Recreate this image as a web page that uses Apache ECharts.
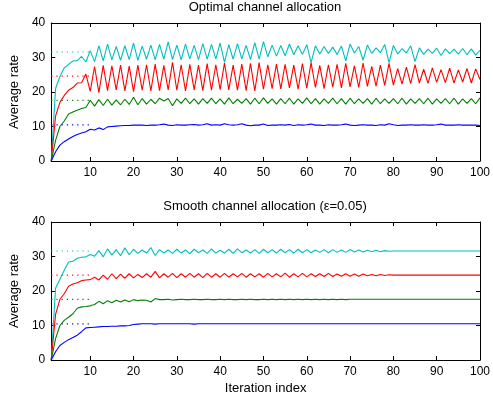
<!DOCTYPE html>
<html>
<head>
<meta charset="utf-8">
<script src="https://cdn.jsdelivr.net/npm/echarts@6/dist/echarts.min.js"></script>
<style>
  html, body { margin: 0; padding: 0; background: #fff; }
  #chart { width: 493px; height: 400px; }
</style>
</head>
<body>
<div id="chart"></div>
<script>
// iterations 1..100
const iterations = [
  1,2,3,4,5,6,7,8,9,10,11,12,13,14,15,16,17,18,19,20,
  21,22,23,24,25,26,27,28,29,30,31,32,33,34,35,36,37,38,39,40,
  41,42,43,44,45,46,47,48,49,50,51,52,53,54,55,56,57,58,59,60,
  61,62,63,64,65,66,67,68,69,70,71,72,73,74,75,76,77,78,79,80,
  81,82,83,84,85,86,87,88,89,90,91,92,93,94,95,96,97,98,99,100
];
const yTicks = [0, 10, 20, 30, 40];
const titles = ['Optimal channel allocation', 'Smooth channel allocation (\u03b5=0.05)'];

// target rates (dotted), drawn up to iteration 10
const refLevels = [31.6, 24.6, 17.6, 10.5];
const refEnd = 10;

// --- optimal allocation ---
const optCyan = [
  0,21,24.5,27,28,29,29.1,30.3,28.7,32,
  28.8,33.4,29,33.9,29.3,33.2,29.2,33.4,29.4,34.2,
  29.2,33.3,29.5,33.6,29.3,33.8,29.5,34.5,29.4,33.6,
  29.3,33.9,29.6,33.5,29.4,34,29.5,33.8,29.6,34.2,
  28.6,33.7,29.5,34,29.6,33.5,29.4,34.3,29.5,34.6,
  30.2,33.6,30.4,33.5,30.5,33.9,30.8,33.4,30.9,33.7,
  28.5,33.4,31,33.2,31.2,33,30.9,33.3,29,33.9,
  31.3,33.2,29.2,33.6,31.2,32.8,31.4,33.8,28.5,33.5,
  31,32.6,31.3,33.4,28.8,32.8,30.9,32.4,31.2,32.7,
  30.6,32.5,31.1,32.4,31,32.6,30.8,32.5,30.7,32.1
];
const optRed = [
  0,13,17,19,20.5,21.3,22.6,22.7,25.2,20.2,
  27.4,19.8,27.7,20.4,27.6,20.6,27.8,20.3,27.5,20.1,
  27.8,20.5,27.9,20.3,28.1,20.4,27.7,20.6,28.6,20.5,
  27.9,20.3,28,20.6,27.8,20.4,28.2,20.5,27.9,20.7,
  28.4,20.6,27.8,20.5,28.1,20.4,28.3,20.3,28.5,20.8,
  27.9,21,28.1,20.9,28,21.2,27.8,20.8,28.2,21.1,
  28.5,21.3,27.7,21,27.9,21.4,28,21.2,28.3,21.5,
  27.6,21.3,28.4,21.6,27.4,21.7,27.8,21.9,28.3,22,
  26.8,22.3,27.2,22.4,27.9,22.6,26.6,22.5,27,22.8,
  26.5,22.7,26.9,22.6,26.4,22.9,26.8,22.6,26.7,23.6
];
const optGreen = [
  0,6,10,11.6,13.6,14.2,14.7,15.2,15.5,17.6,
  15.9,17.8,16.1,17.9,16.2,17.7,16.3,17.9,16.4,18.5,
  16.3,18.1,16.5,17.9,16.6,18.2,17.4,18.1,16,18,
  16.7,18.2,16.6,18,16.5,18.1,16.7,18.2,16.6,18,
  16.5,18.3,16.6,17.9,16.7,18.1,16.5,18.2,16.6,18.3,
  16.7,18,16.5,18.1,16.6,18.2,16.5,18,16.7,18.3,
  16.6,18.1,16.5,18,16.7,18.2,16.6,18.1,16.5,18.2,
  16.6,18,16.7,18.1,16.5,18.2,16.6,18,16.7,18.1,
  16.6,18.2,16.5,18,16.7,18.1,16.6,18.2,16.5,18,
  16.7,18.1,16.6,18.2,16.5,18,16.7,18.1,16.6,18.3
];
const optBlue = [
  0,2.7,4.6,5.6,6.4,7.1,7.7,8.1,8.5,9.2,
  9,9.6,9.1,9.9,10,10.1,10.2,10.3,10.3,10.4,
  10.4,10.4,10.3,10.4,10.4,10.5,10.7,10.4,10.3,10.5,
  10.4,10.4,10.5,10.6,10.4,10.5,10.8,10.4,10.5,10.4,
  10.8,10.5,10.4,10.5,10.8,10.4,10.2,10.4,10.4,10.7,
  10.3,10.4,10.4,10.5,10.4,10.6,10.3,10.5,10.4,10.5,
  10.7,10.4,10.4,10.3,10.5,10.4,10.4,10.5,10.7,10.4,
  10.3,10.4,10.5,10.4,10.4,10.3,10.5,10.4,10.8,10.5,
  10.3,10.4,10.4,10.5,10.4,10.4,10.5,10.4,10.4,10.5,
  10.7,10.4,10.4,10.4,10.5,10.4,10.4,10.4,10.4,10.3
];

// --- smooth allocation ---
const smCyan = [
  0,20.8,23.4,26,28.4,28.6,29.5,29.8,29.9,30.6,
  30.1,31.7,29.9,32.2,30.4,32,30.2,32.5,30.5,32.1,
  30.9,31.9,31,32.6,30.3,32,31,31.9,30.9,32.1,
  31,31.9,30.8,32.1,31.1,31.9,30.9,32.2,31,31.8,
  31,32.1,30.9,32.2,31.1,31.9,31,32,30.9,32.1,
  31.1,32,31,32.1,31.1,32,31,32.1,31.1,32,
  31.1,31.9,31.2,32,31.1,32,31.2,31.9,31.2,32,
  31.3,31.9,31.3,31.8,31.4,31.8,31.4,31.7,31.5,31.6,
  31.6,31.6,31.6,31.6,31.6,31.6,31.6,31.6,31.6,31.6,
  31.6,31.6,31.6,31.6,31.6,31.6,31.6,31.6,31.6,31.6
];
const smRed = [
  0,13.2,17.6,19.2,21.4,22,22.4,23,23.2,23.3,
  24,23.2,24.6,23.4,25,23.6,24.9,23.7,25,23.8,
  24.8,23.9,25,24,25.7,23.8,25,24,25.1,23.9,
  25,24,25.1,24,25,23.9,25.1,24,25,24,
  25.1,24,25,24.1,25.1,24,25,24.1,25,24,
  25.1,24.1,25,24.1,25.2,24,25,24.1,25.1,24.1,
  25,24.2,25,24.2,25.1,24.2,24.9,24.3,25,24.3,
  24.9,24.3,24.9,24.4,24.8,24.4,24.8,24.5,24.7,24.6,
  24.6,24.6,24.6,24.6,24.6,24.6,24.6,24.6,24.6,24.6,
  24.6,24.6,24.6,24.6,24.6,24.6,24.6,24.6,24.6,24.6
];
const smGreen = [
  0,6.2,10,11.5,12.4,13.4,15,15.4,15.5,15.7,
  16.1,17,16.3,17.2,16.6,17.3,16.8,17.4,16.9,17.5,
  17.2,17.4,17.3,16.8,17.8,17.5,17.5,17.6,17.4,17.5,
  17.6,17.5,17.5,17.6,17.5,17.5,17.6,17.5,17.5,17.6,
  17.5,17.6,17.5,17.5,17.6,17.5,17.6,17.5,17.5,17.6,
  17.5,17.6,17.5,17.6,17.5,17.6,17.5,17.6,17.5,17.6,
  17.5,17.6,17.5,17.6,17.5,17.6,17.5,17.6,17.5,17.6,
  17.6,17.6,17.6,17.6,17.6,17.6,17.6,17.6,17.6,17.6,
  17.6,17.6,17.6,17.6,17.6,17.6,17.6,17.6,17.6,17.6,
  17.6,17.6,17.6,17.6,17.6,17.6,17.6,17.6,17.6,17.6
];
const smBlue = [
  0,2.4,4.2,5.1,5.9,6.5,7.2,8.2,9.3,9.4,
  9.5,9.6,9.7,9.7,9.8,9.8,9.9,9.9,10,10.3,
  10.4,10.5,10.5,10.5,10.4,10.5,10.5,10.5,10.5,10.5,
  10.5,10.5,10.5,10.4,10.5,10.5,10.5,10.5,10.5,10.5,
  10.5,10.5,10.5,10.5,10.5,10.5,10.5,10.5,10.5,10.5,
  10.5,10.5,10.5,10.5,10.5,10.5,10.5,10.5,10.5,10.5,
  10.5,10.5,10.5,10.5,10.5,10.5,10.5,10.5,10.5,10.5,
  10.5,10.5,10.5,10.5,10.5,10.5,10.5,10.5,10.5,10.5,
  10.5,10.5,10.5,10.5,10.5,10.5,10.5,10.5,10.5,10.5,
  10.5,10.5,10.5,10.5,10.5,10.5,10.5,10.5,10.5,10.5
];

const colors = ['#00bfbf', '#ff0000', '#008000', '#0000ff'];
const font = '"Liberation Sans", Arial, Helvetica, sans-serif';
const panels = [
  [optCyan, optRed, optGreen, optBlue],
  [smCyan, smRed, smGreen, smBlue]
];
const gridTops = [23, 222];

const showEvery10 = (idx) => (idx + 1) % 10 === 0;

const chart = echarts.init(document.getElementById('chart'), null, { renderer: 'canvas' });

const grid = [], xAxis = [], yAxis = [], title = [], series = [];

panels.forEach((lines, p) => {
  grid.push({ left: 47, right: 11, top: gridTops[p], height: 138 });
  title.push({
    text: titles[p], left: 265, top: gridTops[p] - 22, textAlign: 'center', padding: 0,
    textStyle: { fontFamily: font, fontSize: 13, fontWeight: 'normal', color: '#000' }
  });

  const axisLine = { show: true, onZero: false, lineStyle: { color: '#000', width: 1 } };
  const tick = { show: true, inside: true, length: 4, lineStyle: { color: '#000' } };

  // bottom x
  xAxis.push({
    gridIndex: p, type: 'category', position: 'bottom', data: iterations, boundaryGap: false,
    axisLine: axisLine,
    axisTick: Object.assign({ interval: showEvery10 }, tick),
    axisLabel: { interval: showEvery10, margin: 6, fontFamily: font, fontSize: 12, color: '#000' },
    splitLine: { show: false },
    name: p === 1 ? 'Iteration index' : '',
    nameLocation: 'middle', nameGap: 22,
    nameTextStyle: { fontFamily: font, fontSize: 13, color: '#000' }
  });
  // top x (box)
  xAxis.push({
    gridIndex: p, type: 'category', position: 'top', data: iterations, boundaryGap: false,
    axisLine: axisLine,
    axisTick: Object.assign({ interval: showEvery10 }, tick),
    axisLabel: { show: false }, splitLine: { show: false }
  });
  // left y
  yAxis.push({
    gridIndex: p, type: 'value', position: 'left',
    min: yTicks[0], max: yTicks[yTicks.length - 1], interval: 10,
    axisLine: axisLine, axisTick: tick,
    axisLabel: { margin: 6, fontFamily: font, fontSize: 12, color: '#000' },
    splitLine: { show: false },
    name: 'Average rate', nameLocation: 'middle', nameGap: 26,
    nameTextStyle: { fontFamily: font, fontSize: 13, color: '#000' }
  });
  // right y (box)
  yAxis.push({
    gridIndex: p, type: 'value', position: 'right',
    min: yTicks[0], max: yTicks[yTicks.length - 1], interval: 10,
    axisLine: axisLine, axisTick: tick,
    axisLabel: { show: false }, splitLine: { show: false }
  });

  // dotted target levels
  refLevels.forEach((lv, k) => {
    series.push({
      type: 'line', xAxisIndex: p * 2, yAxisIndex: p * 2,
      data: [[0, lv], [refEnd - 1, lv]],
      symbol: 'none', silent: true, z: 1,
      lineStyle: { color: colors[k], width: 1.2, type: [1.2, 4] }
    });
  });

  lines.forEach((vals, k) => {
    series.push({
      type: 'line', xAxisIndex: p * 2, yAxisIndex: p * 2,
      data: vals, symbol: 'none', z: 2,
      lineStyle: { color: colors[k], width: 1.1 }
    });
  });
});

chart.setOption({
  animation: false,
  backgroundColor: '#fff',
  title: title,
  grid: grid,
  xAxis: xAxis,
  yAxis: yAxis,
  series: series
});
</script>
</body>
</html>
